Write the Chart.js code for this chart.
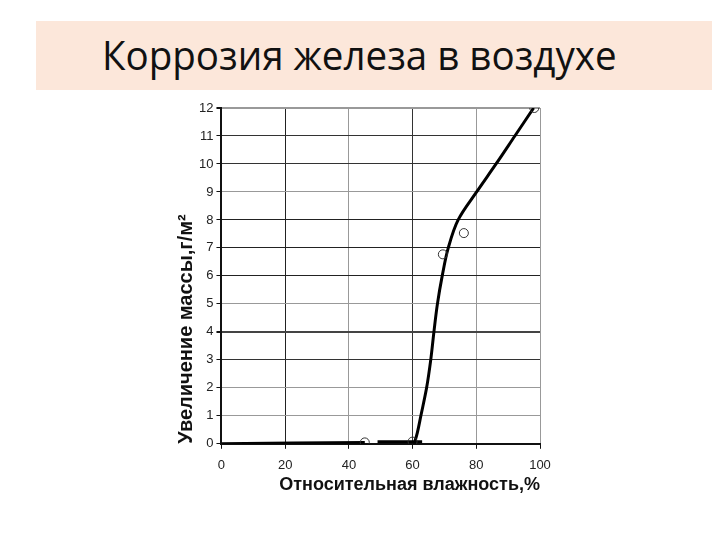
<!DOCTYPE html>
<html>
<head>
<meta charset="utf-8">
<script src="https://cdn.jsdelivr.net/npm/chart.js@4/dist/chart.umd.min.js"></script>
<style>
    html, body { margin: 0; padding: 0; background: #fff; }
    #wrap { position: relative; width: 720px; height: 540px; overflow: hidden; }
    #banner {
        position: absolute; left: 36px; top: 21px; width: 676px; height: 69px;
        background: #fce7da;
    }
    #title {
        position: absolute; left: 102px; top: 30px;
        font-family: 'Open Sans', sans-serif;
        font-size: 41px; line-height: 48px; color: #111; white-space: nowrap;
        transform: scaleX(0.94); transform-origin: left top;
    }
    #chartBox { position: absolute; left: 0; top: 0; width: 720px; height: 540px; }
</style>
</head>
<body>
<div id="wrap">
    <div id="banner"></div>
    <div id="title">Коррозия железа в воздухе</div>
    <div id="chartBox"><canvas id="chart"></canvas></div>
</div>
<script>
// curve (humidity %, mass gain g/m2)
const curveX = [0, 45, null, 49, 63, null, 60.5, 61.5, 62.6, 64.4, 65.7, 66.7, 67.8, 69.3, 71.2, 74.3, 80.1, 86.2, 92.1, 98];
const curveY = [0, 0.05, null, 0.07, 0.07, null, 0, 0.4, 1, 2, 3, 4, 5, 6, 7, 8, 9, 10, 11, 12];

// measured points (open circles)
const pointX = [45, 60, 69.5, 76.1, 98.2];
const pointY = [0.05, 0.08, 6.77, 7.53, 12];

const xTicks = [0, 20, 40, 60, 80, 100];
const yTicks = [0, 1, 2, 3, 4, 5, 6, 7, 8, 9, 10, 11, 12];

// grid line shades as they come out in the scan
const xGridColors = ['#111', '#222', '#999', '#333', '#999', '#999'];
const yGridColors = ['#111', '#999', '#999', '#333', '#444', '#999', '#222', '#222', '#222', '#999', '#333', '#333', '#999'];

const toXY = (xs, ys) => xs.map((x, i) => (x === null ? { x: null, y: null } : { x: x, y: ys[i] }));

const axisFont = { family: 'Liberation Sans, Arial, sans-serif', size: 13 };
const titleFont = { family: 'Liberation Sans, Arial, sans-serif', size: 18, weight: 'bold' };
const yTitleFont = { family: 'Liberation Sans, Arial, sans-serif', size: 20, weight: 'bold' };

new Chart(document.getElementById('chart'), {
    type: 'scatter',
    data: {
        datasets: [
            {
                data: toXY(pointX, pointY),
                showLine: false,
                pointStyle: 'circle',
                pointRadius: 4.5,
                borderWidth: 1,
                borderColor: '#333',
                backgroundColor: 'rgba(255,255,255,0)'
            },
            {
                data: toXY(curveX, curveY),
                showLine: true,
                spanGaps: false,
                tension: 0.35,
                borderColor: '#000',
                borderWidth: 3,
                pointRadius: 0
            }
        ]
    },
    options: {
        responsive: true,
        maintainAspectRatio: false,
        animation: false,
        layout: { padding: { left: 170, right: 180, top: 108, bottom: 40 } },
        plugins: { legend: { display: false }, tooltip: { enabled: false } },
        scales: {
            x: {
                min: 0, max: 100,
                afterBuildTicks: axis => { axis.ticks = xTicks.map(v => ({ value: v })); },
                grid: {
                    color: ctx => xGridColors[ctx.index] || '#999',
                    lineWidth: 1,
                    tickLength: 5,
                    tickColor: '#111'
                },
                border: { color: '#111', width: 2 },
                ticks: { color: '#222', font: axisFont, padding: 9, maxRotation: 0 },
                title: { display: true, text: 'Относительная влажность,%', align: 'end', color: '#111', font: titleFont, padding: { top: -8 } }
            },
            y: {
                min: 0, max: 12,
                afterBuildTicks: axis => { axis.ticks = yTicks.map(v => ({ value: v })); },
                grid: {
                    color: ctx => yGridColors[ctx.index] || '#999',
                    lineWidth: ctx => (ctx.index === 4 || ctx.index === 12 ? 2 : 1),
                    tickLength: 5,
                    tickColor: '#111'
                },
                border: { color: '#111', width: 2 },
                ticks: { color: '#222', font: axisFont, padding: 3 },
                title: { display: true, text: 'Увеличение массы,г/м²', align: 'start', color: '#111', font: yTitleFont, padding: { bottom: -2 } }
            }
        }
    }
});
</script>
</body>
</html>
